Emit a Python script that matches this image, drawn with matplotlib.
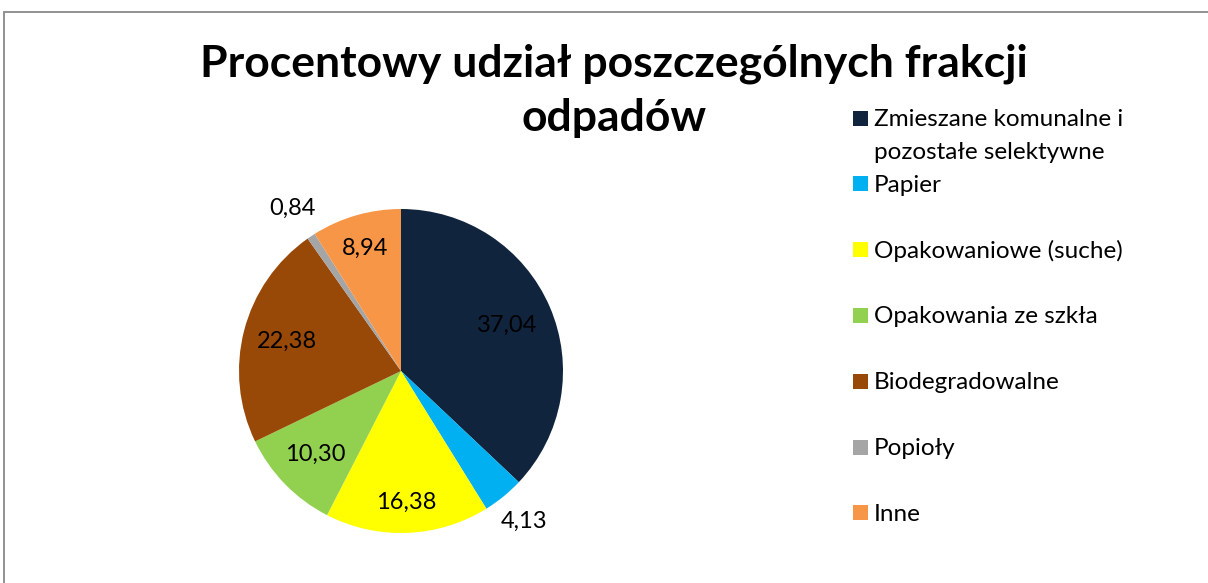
import matplotlib
matplotlib.use("Agg")
import matplotlib.pyplot as plt
from matplotlib.patches import Rectangle
import numpy as np

plt.rcParams['font.family'] = ['Lato', 'DejaVu Sans']

title_lines = ["Procentowy udział poszczególnych frakcji", "odpadów"]
categories = ["Zmieszane komunalne i\npozostałe selektywne", "Papier", "Opakowaniowe (suche)",
              "Opakowania ze szkła", "Biodegradowalne", "Popioły", "Inne"]
values = [37.04, 4.13, 16.38, 10.30, 22.38, 0.84, 8.94]
labels = ["37,04", "4,13", "16,38", "10,30", "22,38", "0,84", "8,94"]
colors = ["#10243E", "#00B0F0", "#FFFF00", "#92D050", "#984807", "#A5A5A5", "#F79646"]
label_radius = [0.71, 1.2, 0.81, 0.74, 0.73, 1.21, 0.79]

W, H = 1208, 583
fig = plt.figure(figsize=(W / 100, H / 100), dpi=100)

def fx(x):
    return x / W

def fy(y):
    return 1 - y / H

# outer border
fig.patches.append(Rectangle((fx(4), fy(590)), fx(1212) - fx(4), fy(12) - fy(590),
                             transform=fig.transFigure, fill=False, edgecolor="#898989", linewidth=1.3))

cx, cy, r = 401, 371, 162
ax = fig.add_axes([fx(cx - r), fy(cy + r), 2 * r / W, 2 * r / H])
wedges, _ = ax.pie(values, colors=colors, startangle=90, counterclock=False, radius=1,
                   wedgeprops=dict(linewidth=0))
ax.set_xlim(-1, 1)
ax.set_ylim(-1, 1)
ax.set_aspect('equal')
ax.axis('off')

for w, lab, rf in zip(wedges, labels, label_radius):
    ang = np.deg2rad((w.theta1 + w.theta2) / 2)
    ax.text(rf * np.cos(ang), rf * np.sin(ang), lab, ha='center', va='center',
            fontsize=17, color='black', clip_on=False)

for line, base in zip(title_lines, [77, 131]):
    fig.text(fx(614), fy(base), line, ha='center', va='baseline', fontsize=32,
             fontweight='bold', color='black')

# legend
for i, (cat, col) in enumerate(zip(categories, colors)):
    base = 126 + i * 65.8
    fig.patches.append(Rectangle((fx(853), fy(base - 0.5)), 15 / W, 15 / H,
                                 transform=fig.transFigure, facecolor=col, edgecolor='none'))
    for j, part in enumerate(cat.split("\n")):
        fig.text(fx(874), fy(base + j * 33), part, ha='left', va='baseline', fontsize=17.5,
                 color='black')

fig.savefig("out.png", dpi=100)
